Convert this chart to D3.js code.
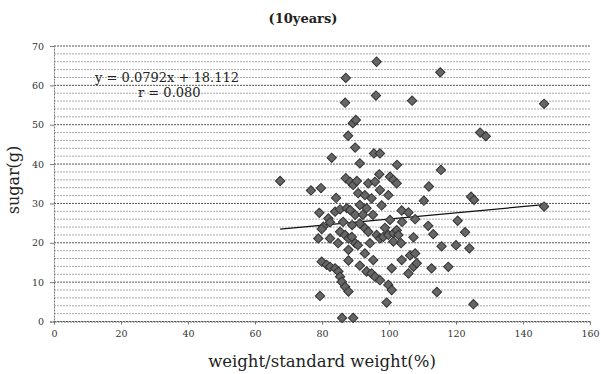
<!DOCTYPE html>
<html>
<head>
<meta charset="utf-8">
<script src="https://cdn.jsdelivr.net/npm/d3@7/dist/d3.min.js"></script>
<style>
  body { margin: 0; background: #fff; }
  svg { display: block; }
  text { font-family: "DejaVu Serif", "Liberation Serif", serif; }
</style>
</head>
<body>
<svg id="chart" width="601" height="374"></svg>
<script>
// values
const weightPct = [
  96.3, 115.3, 87.1, 96.1, 106.9, 146.3, 86.9, 89.2, 90.1, 127.2,
  128.9, 87.8, 89.9, 95.5, 97.3, 82.9, 91.3, 102.4, 115.5, 67.5,
  87.1, 88.4, 89.3, 97.1, 100.3, 101.3, 102.3, 90.4, 93.8, 95.8,
  76.7, 79.7, 111.9, 97.3, 90.8, 94.8, 92.8, 99.8, 110.4, 124.5,
  125.4, 97.8, 93.3, 79.2, 83.9, 85.4, 87.4, 88.4, 103.8, 105.8,
  107.8, 146.3, 81.9, 82.4, 80.4, 91.3, 92.8, 93.8, 100.3, 111.7,
  120.5, 113.2, 122.7, 79.9, 85.4, 86.9, 87.9, 88.9, 89.9, 78.9,
  82.4, 96.3, 97.3, 98.3, 99.8, 101.3, 102.3, 101.3, 102.8, 107.3,
  94.3, 115.7, 120.0, 124.0, 87.9, 87.9, 92.8, 95.3, 103.8, 106.3,
  107.8, 107.3, 105.8, 108.3, 100.8, 112.7, 117.7, 79.9, 81.4, 82.4,
  83.9, 84.9, 85.4, 85.9, 86.9, 87.9, 91.3, 93.3, 94.8, 95.8,
  97.3, 99.8, 100.8, 114.3, 79.4, 99.3, 125.2, 86.0, 89.3, 89.9,
  91.3, 89.0, 86.3, 92.2, 84.8, 90.7, 95.2, 98.8, 103.9, 84.2, 103.6
];
const sugarG = [
  66.0, 63.3, 61.9, 57.4, 56.1, 55.3, 55.6, 50.4, 51.2, 48.0,
  47.1, 47.2, 44.2, 42.7, 42.7, 41.6, 40.2, 39.8, 38.5, 35.7,
  36.4, 35.5, 34.7, 37.4, 36.8, 36.0, 35.1, 35.7, 35.1, 35.5,
  33.3, 33.9, 34.3, 33.4, 32.6, 31.3, 32.1, 32.1, 30.7, 31.7,
  30.9, 29.5, 28.8, 27.6, 27.9, 28.5, 28.8, 28.3, 28.2, 27.7,
  26.0, 29.2, 26.2, 25.2, 24.1, 24.9, 23.7, 22.8, 25.8, 24.3,
  25.6, 22.2, 22.7, 23.5, 22.8, 22.0, 21.1, 21.5, 19.9, 21.1,
  21.1, 22.0, 21.1, 21.5, 22.0, 22.4, 23.2, 20.3, 22.0, 21.4,
  19.9, 19.1, 19.4, 18.6, 18.2, 15.5, 17.3, 15.6, 15.6, 16.8,
  17.3, 13.9, 12.2, 14.8, 13.5, 13.5, 13.9, 15.2, 14.4, 13.9,
  13.5, 12.7, 11.4, 10.1, 8.8, 7.6, 14.2, 12.7, 12.2, 11.4,
  10.5, 9.3, 8.0, 7.5, 6.5, 4.8, 4.4, 0.9, 0.9, 27.1,
  29.6, 24.5, 25.3, 27.1, 19.9, 19.4, 27.1, 23.8, 25.3, 31.4, 19.9
];
const xTicks = [0, 20, 40, 60, 80, 100, 120, 140, 160];
const yTicks = [0, 10, 20, 30, 40, 50, 60, 70];
const trendSlope = 0.0792;
const trendIntercept = 18.112;
const trendLabel = 'y = 0.0792x + 18.112';
const rLabel = 'r = 0.080';

const svg = d3.select('#chart');
const x = d3.scaleLinear().domain([0, 160]).range([54, 590]);
const y = d3.scaleLinear().domain([0, 70]).range([321.5, 46]);

// grid lines every 2, darker every 10
const grid = svg.append('g');
grid.selectAll('line')
  .data(d3.range(0, 71, 2))
  .enter()
  .append('line')
  .attr('x1', x(0))
  .attr('x2', 590)
  .attr('y1', (d) => y(d))
  .attr('y2', (d) => y(d))
  .attr('stroke', (d) => (d % 10 === 0 ? '#555' : '#aaa'))
  .attr('stroke-width', 1)
  .attr('stroke-dasharray', '2,1');

// axes
const yAxis = svg.append('g')
  .attr('transform', `translate(${x(0)},0)`)
  .call(d3.axisLeft(y).tickValues(yTicks).tickSize(4).tickPadding(6));
const xAxis = svg.append('g')
  .attr('transform', `translate(0,${y(0)})`)
  .call(d3.axisBottom(x).tickValues(xTicks).tickSize(3).tickPadding(6));
[yAxis, xAxis].forEach((g) => {
  g.select('.domain').attr('stroke', '#777').attr('stroke-dasharray', '2,1');
  g.selectAll('.tick line').attr('stroke', '#777');
  g.selectAll('.tick text')
    .attr('fill', '#333')
    .attr('font-size', 9.5)
    .attr('font-family', '"DejaVu Serif", serif');
});

// trend line
const tx = d3.extent(weightPct);
svg.append('line')
  .attr('x1', x(tx[0]))
  .attr('y1', y(trendSlope * tx[0] + trendIntercept))
  .attr('x2', x(tx[1]))
  .attr('y2', y(trendSlope * tx[1] + trendIntercept))
  .attr('stroke', '#111')
  .attr('stroke-width', 1.2);

// points
const points = weightPct.map((w, i) => ({ w, s: sugarG[i] }));
svg.append('g')
  .selectAll('path')
  .data(points)
  .enter()
  .append('path')
  .attr('d', d3.symbol(d3.symbolSquare, 44))
  .attr('transform', (d) => `translate(${x(d.w)},${y(d.s)}) rotate(45)`)
  .attr('fill', '#666')
  .attr('stroke', '#333')
  .attr('stroke-width', 1);

// labels
svg.append('text')
  .attr('x', 303)
  .attr('y', 23)
  .attr('text-anchor', 'middle')
  .attr('font-size', 13)
  .attr('font-weight', 'bold')
  .attr('fill', '#222')
  .text('(10years)');

svg.append('text')
  .attr('x', 95)
  .attr('y', 82)
  .attr('font-size', 13)
  .attr('fill', '#222')
  .text(trendLabel);
svg.append('text')
  .attr('x', 138)
  .attr('y', 97)
  .attr('font-size', 13)
  .attr('fill', '#222')
  .text(rLabel);

svg.append('text')
  .attr('transform', 'translate(19,180) rotate(-90)')
  .attr('text-anchor', 'middle')
  .attr('font-size', 16)
  .attr('fill', '#222')
  .text('sugar(g)');

svg.append('text')
  .attr('x', 322)
  .attr('y', 367)
  .attr('text-anchor', 'middle')
  .attr('font-size', 16.5)
  .attr('fill', '#222')
  .text('weight/standard weight(%)');
</script>
</body>
</html>
